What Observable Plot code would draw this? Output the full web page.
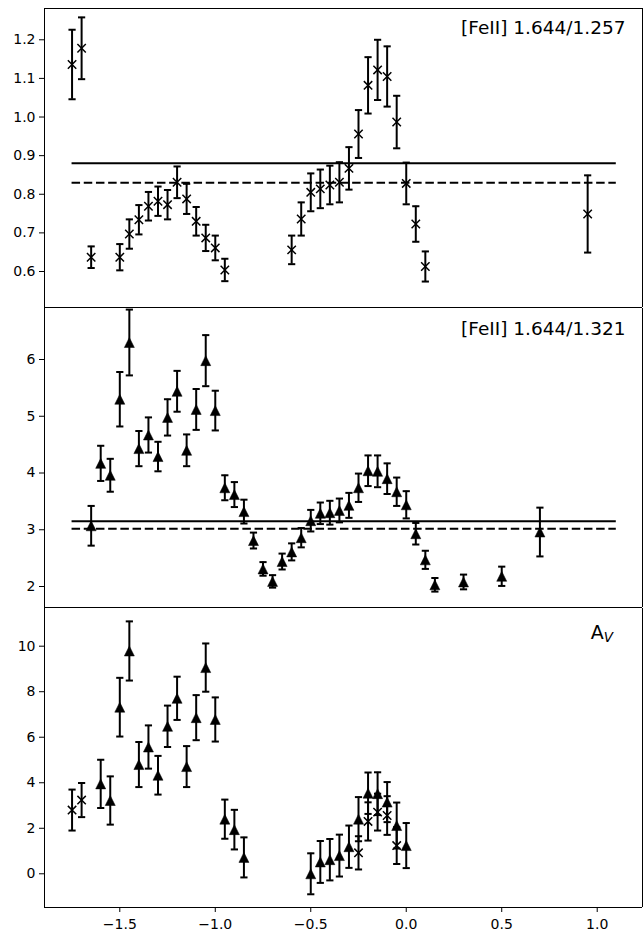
<!DOCTYPE html>
<html><head><meta charset="utf-8">
<script src="https://cdn.jsdelivr.net/npm/d3@7"></script>
<script src="https://cdn.jsdelivr.net/npm/@observablehq/plot@0.6"></script>
<style>
html,body{margin:0;padding:0;background:#fff;}
#chart{width:643px;height:931px;overflow:hidden;background:#fff;}
#chart svg{display:block;}
</style></head><body><div id="chart"></div>
<script>
// ---- data ----
const xDomain = [-1.8943, 1.2372];
const hlineSpan = [-1.75, 1.10];

// Panel 1: [FeII] 1.644/1.257
const x1257 = [-1.75,-1.70,-1.65,-1.50,-1.45,-1.40,-1.35,-1.30,-1.25,-1.20,-1.15,-1.10,-1.05,-1.00,-0.95,-0.60,-0.55,-0.50,-0.45,-0.40,-0.35,-0.30,-0.25,-0.20,-0.15,-0.10,-0.05,0.00,0.05,0.10,0.95];
const r1257 = [1.136,1.178,0.637,0.637,0.697,0.734,0.769,0.782,0.773,0.831,0.788,0.730,0.687,0.661,0.604,0.656,0.736,0.805,0.814,0.824,0.831,0.867,0.956,1.082,1.122,1.105,0.987,0.828,0.723,0.613,0.749];
const e1257 = [0.090,0.080,0.028,0.034,0.038,0.038,0.037,0.038,0.038,0.041,0.039,0.037,0.034,0.032,0.029,0.037,0.043,0.049,0.050,0.050,0.052,0.055,0.062,0.073,0.078,0.078,0.068,0.054,0.046,0.039,0.100];
const solid1257 = 0.880, dashed1257 = 0.830;
const yDomain1 = [0.5068, 1.281];
const yTicks1 = [0.6,0.7,0.8,0.9,1.0,1.1,1.2];

// Panel 2: [FeII] 1.644/1.321
const x1321 = [-1.65,-1.60,-1.55,-1.50,-1.45,-1.40,-1.35,-1.30,-1.25,-1.20,-1.15,-1.10,-1.05,-1.00,-0.95,-0.90,-0.85,-0.80,-0.75,-0.70,-0.65,-0.60,-0.55,-0.50,-0.45,-0.40,-0.35,-0.30,-0.25,-0.20,-0.15,-0.10,-0.05,0.00,0.05,0.10,0.15,0.30,0.50,0.70];
const r1321 = [3.07,4.17,3.96,5.30,6.30,4.43,4.67,4.29,4.98,5.44,4.40,5.12,5.98,5.10,3.74,3.62,3.32,2.81,2.31,2.09,2.44,2.61,2.86,3.16,3.29,3.30,3.34,3.43,3.74,4.04,4.03,3.90,3.67,3.44,2.93,2.47,2.03,2.08,2.18,2.96];
const e1321 = [0.35,0.31,0.29,0.48,0.58,0.31,0.31,0.26,0.32,0.36,0.28,0.36,0.45,0.35,0.22,0.22,0.21,0.14,0.12,0.11,0.14,0.15,0.17,0.19,0.19,0.21,0.21,0.22,0.25,0.27,0.28,0.27,0.25,0.24,0.19,0.16,0.12,0.13,0.17,0.43];
const solid1321 = 3.151, dashed1321 = 3.016;
const yDomain2 = [1.630, 6.899];
const yTicks2 = [2,3,4,5,6];

// Panel 3: A_V (triangles from 1.321, crosses from 1.257)
const xAvT = [-1.60,-1.55,-1.50,-1.45,-1.40,-1.35,-1.30,-1.25,-1.20,-1.15,-1.10,-1.05,-1.00,-0.95,-0.90,-0.85,-0.50,-0.45,-0.40,-0.35,-0.30,-0.25,-0.20,-0.15,-0.10,-0.05,0.00];
const avT  = [3.95,3.22,7.32,9.79,4.80,5.57,4.33,6.48,7.71,4.71,6.86,9.06,6.78,2.40,1.94,0.72,0.00,0.52,0.62,0.80,1.19,2.40,3.54,3.52,3.15,2.12,1.24];
const eAvT = [1.06,1.06,1.29,1.30,0.99,0.95,0.85,0.91,0.95,0.90,0.99,1.06,0.97,0.86,0.87,0.88,0.90,0.92,0.91,0.92,0.93,0.97,0.91,0.94,0.88,1.01,0.99];
const xAvX = [-1.75,-1.70,-0.25,-0.20,-0.15,-0.10,-0.05];
const avX  = [2.80,3.24,0.92,2.30,2.71,2.56,1.24];
const eAvX = [0.90,0.75,0.73,0.84,0.81,0.85,0.81];
const yDomain3 = [-1.481, 11.656];
const yTicks3 = [0,2,4,6,8,10];

const xTicks = [-1.5,-1.0,-0.5,0.0,0.5,1.0];
const labels = ["[FeII] 1.644/1.257", "[FeII] 1.644/1.321"];
const avLabel = ["A", "V"];

// ---- helpers ----
const rows = (xs, ys, es) => xs.map((x, i) => ({x, y: ys[i], lo: ys[i] - es[i], hi: ys[i] + es[i]}));
const rad = s => Math.sqrt(s / Math.PI);
const capSym = {draw(c, s) { const r = rad(s); c.moveTo(-r, 0); c.lineTo(r, 0); }};
const crossSym = {draw(c, s) { const r = rad(s); c.moveTo(-r, -r); c.lineTo(r, r); c.moveTo(-r, r); c.lineTo(r, -r); }};
const triSym = {draw(c, s) { const r = rad(s); c.moveTo(0, -r); c.lineTo(r, r); c.lineTo(-r, r); c.closePath(); }};

function errMarks(data, kind) {
  const m = [
    Plot.ruleX(data, {x: "x", y1: "lo", y2: "hi", stroke: "black", strokeWidth: 2}),
    Plot.dot(data, {x: "x", y: "lo", symbol: capSym, r: 3.6, stroke: "black", strokeWidth: 2, fill: "none"}),
    Plot.dot(data, {x: "x", y: "hi", symbol: capSym, r: 3.6, stroke: "black", strokeWidth: 2, fill: "none"})
  ];
  if (kind === "x") m.push(Plot.dot(data, {x: "x", y: "y", symbol: crossSym, r: 4.2, stroke: "black", strokeWidth: 1.5, fill: "none"}));
  else m.push(Plot.dot(data, {x: "x", y: "y", symbol: triSym, r: 5, fill: "black", stroke: "black", strokeWidth: 0.5}));
  return m;
}
function hlines(solid, dashed) {
  const s = [{x1: hlineSpan[0], x2: hlineSpan[1], y: solid}];
  const d = [{x1: hlineSpan[0], x2: hlineSpan[1], y: dashed}];
  return [
    Plot.ruleY(s, {x1: "x1", x2: "x2", y: "y", stroke: "black", strokeWidth: 2}),
    Plot.ruleY(d, {x1: "x1", x2: "x2", y: "y", stroke: "black", strokeWidth: 2, strokeDasharray: "8.5,3.7"})
  ];
}
const style = {fontFamily: "'DejaVu Sans', sans-serif", fontSize: "14px", color: "black", background: "white", overflow: "visible"};
const base = (height, marginTop, marginBottom, yDomain) => ({
  width: 643, height, marginLeft: 44, marginRight: 1, marginTop, marginBottom,
  style,
  x: {domain: xDomain, label: null, axis: null},
  y: {domain: yDomain, label: null, axis: null}
});
const yAxis = (ticks, fmt) => Plot.axisY(ticks, {tickSize: 5, tickPadding: 4, fontSize: 14, tickFormat: fmt, label: null, stroke: "black"});
const frameRules = (yDomain, withTop) => [
  Plot.ruleX(xDomain, {stroke: "black", strokeWidth: 1}),
  Plot.ruleY(withTop ? yDomain : [yDomain[0]], {stroke: "black", strokeWidth: 1})
];

const p1 = Plot.plot({
  ...base(308, 8, 1, yDomain1),
  marks: [
    ...hlines(solid1257, dashed1257),
    ...errMarks(rows(x1257, r1257, e1257), "x"),
    yAxis(yTicks1, d3.format(".1f")),
    Plot.text([labels[0]], {text: d => d, frameAnchor: "top-right", textAnchor: "end", lineAnchor: "bottom", dx: -17, dy: 25.6, fontSize: 18.5}),
    ...frameRules(yDomain1, true)
  ]
});
const p2 = Plot.plot({
  ...base(300, 0, 1, yDomain2),
  marks: [
    ...hlines(solid1321, dashed1321),
    ...errMarks(rows(x1321, r1321, e1321), "t"),
    yAxis(yTicks2, d3.format("d")),
    Plot.text([labels[1]], {text: d => d, frameAnchor: "top-right", textAnchor: "end", lineAnchor: "bottom", dx: -17, dy: 26.6, fontSize: 18.5}),
    ...frameRules(yDomain2, false)
  ]
});
const p3 = Plot.plot({
  ...base(323, 0, 24, yDomain3),
  marks: [
    ...errMarks(rows(xAvT, avT, eAvT), "t"),
    ...errMarks(rows(xAvX, avX, eAvX), "x"),
    yAxis(yTicks3, d3.format("d")),
    Plot.axisX(xTicks, {tickSize: 5, tickPadding: 7, fontSize: 14, tickFormat: d3.format(".1f"), label: null, stroke: "black"}),
    Plot.text([avLabel[0]], {text: d => d, frameAnchor: "top-right", textAnchor: "end", lineAnchor: "bottom", dx: -38.7, dy: 30.3, fontSize: 19}),
    Plot.text([avLabel[1]], {text: d => d, frameAnchor: "top-right", textAnchor: "start", lineAnchor: "bottom", dx: -38.7, dy: 33.7, fontSize: 13.5, fontStyle: "italic"}),
    ...frameRules(yDomain3, false)
  ]
});
const chart = document.getElementById("chart");
chart.append(p1, p2, p3);
</script>
</body></html>
